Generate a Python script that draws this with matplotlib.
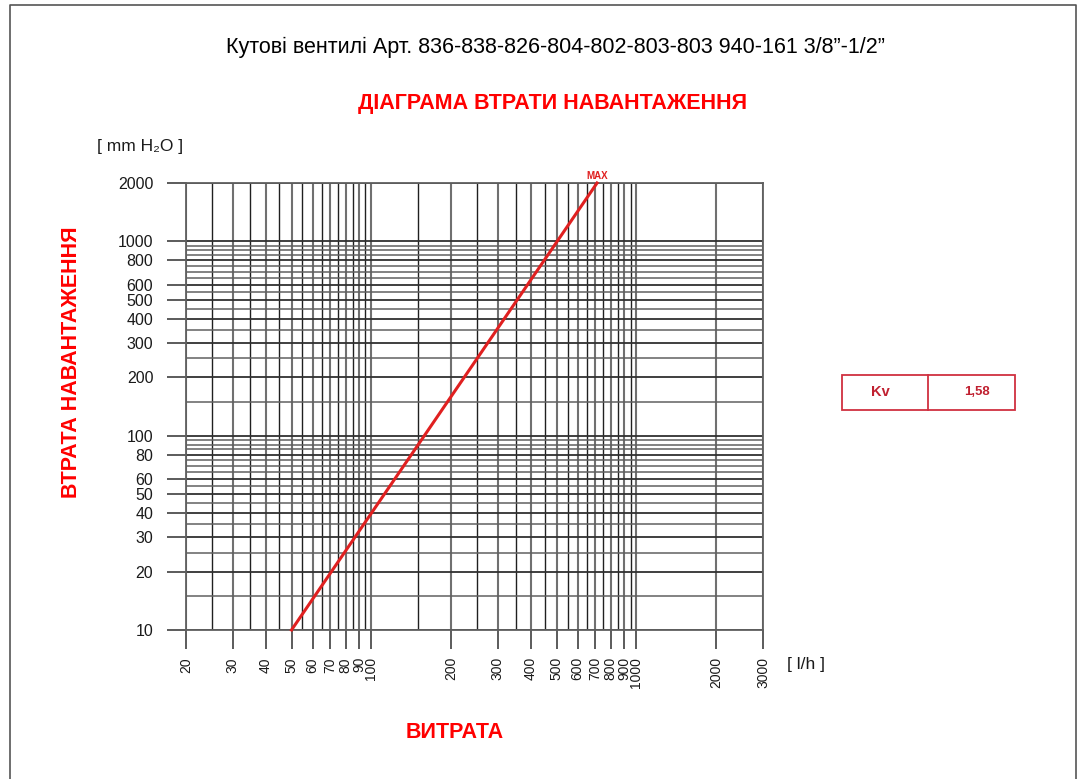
import matplotlib
matplotlib.use("Agg")
import matplotlib.pyplot as plt
from matplotlib.patches import Rectangle
from matplotlib.lines import Line2D

plt.rcParams['font.family'] = ['Liberation Sans', 'DejaVu Sans']

# --- data ---
title = "Кутові вентилі Арт. 836-838-826-804-802-803-803 940-161 3/8”-1/2”"
subtitle = "ДІАГРАМА ВТРАТИ НАВАНТАЖЕННЯ"
ylabel = "ВТРАТА НАВАНТАЖЕННЯ"
xlabel = "ВИТРАТА"

flow_ticks = [20, 30, 40, 50, 60, 70, 80, 90, 100, 200, 300, 400, 500,
              600, 700, 800, 900, 1000, 2000, 3000]
loss_ticks = [10, 20, 30, 40, 50, 60, 80, 100, 200, 300, 400, 500, 600,
              800, 1000, 2000]

grid_flow = list(range(20, 101, 5)) + [150] + list(range(200, 1001, 50)) + [2000, 3000]
grid_loss = [10, 15] + list(range(20, 101, 5)) + [150] + list(range(200, 1001, 50)) + [2000]

# pressure loss line for Kv = 1,58
line_flow = [50, 710]
line_loss = [10, 2000]
kv_value = "1,58"

W, H = 1079, 779
fig = plt.figure(figsize=(W / 100, H / 100), dpi=100)
ax = fig.add_axes([186 / W, 1 - 630 / H, (763 - 186) / W, (630 - 183) / H])
ax.set_xscale('log')
ax.set_yscale('log')
ax.set_xlim(20, 3000)
ax.set_ylim(10, 2000)

# grid of the chart (scanned look: labelled lines grey and thicker)
for v in grid_flow:
    if v in flow_ticks:
        ax.axvline(v, color='#707070', lw=1.5, zorder=1)
    else:
        ax.axvline(v, color='#202020', lw=1.0, zorder=1)
for v in grid_loss:
    if v in loss_ticks:
        ax.axhline(v, color='#303030', lw=1.3, zorder=1)
    else:
        ax.axhline(v, color='#606060', lw=1.1, zorder=1)

for s in ax.spines.values():
    s.set_color('#606060')
    s.set_linewidth(1.3)

ax.plot(line_flow, line_loss, color='#e02020', lw=2.2, zorder=3, clip_on=False)
ax.text(line_flow[-1], line_loss[-1] * 1.02, "MAX", color='#e02020', fontsize=7,
        fontweight='bold', ha='center', va='bottom')

ax.minorticks_off()
ax.set_xticks(flow_ticks)
ax.set_xticklabels([str(v) for v in flow_ticks], rotation=90, fontsize=10,
                   color='#1a1a1a')
ax.set_yticks(loss_ticks)
ax.set_yticklabels([str(v) for v in loss_ticks], fontsize=11.5, color='#1a1a1a')
ax.tick_params(axis='both', direction='out', length=13.5, width=1.2,
               color='#404040')
ax.tick_params(axis='x', pad=6)
ax.tick_params(axis='y', pad=10)

# unit labels
fig.text(97 / W, 1 - 147 / H, "[ mm H₂O ]", fontsize=12.5, color='#1a1a1a',
         va='center', ha='left')
fig.text(787 / W, 1 - 664 / H, "[ l/h ]", fontsize=12.5, color='#1a1a1a',
         va='center', ha='left')

# titles
fig.text(555 / W, 1 - 47 / H, title, fontsize=15.5, ha='center', va='center',
         color='black')
fig.text(553 / W, 1 - 104 / H, subtitle, fontsize=15.5, ha='center', va='center',
         color='#ff0000', fontweight='bold')
fig.text(72 / W, 1 - 362 / H, ylabel, fontsize=15.5, rotation=90, ha='center',
         va='center', color='#ff0000', fontweight='bold')
fig.text(455 / W, 1 - 732 / H, xlabel, fontsize=15.5, ha='center', va='center',
         color='#ff0000', fontweight='bold')

# Kv box
box_col = '#d03040'
fig.patches.append(Rectangle((842 / W, 1 - 410 / H), (1015 - 842) / W, 35 / H,
                             transform=fig.transFigure, fill=False,
                             edgecolor=box_col, lw=1.3))
fig.lines.append(Line2D([928 / W, 928 / W], [1 - 410 / H, 1 - 375 / H],
                        transform=fig.transFigure, color=box_col, lw=1.3))
fig.text(880 / W, 1 - 392 / H, "Kv", color='#c02030', fontsize=10.5,
         fontweight='bold', ha='center', va='center')
fig.text(977 / W, 1 - 392 / H, kv_value, color='#c02030', fontsize=9.5,
         fontweight='bold', ha='center', va='center')

# page frame
fig.lines.append(Line2D([10 / W, 10 / W, 1076 / W, 1076 / W],
                        [0, 1 - 5 / H, 1 - 5 / H, 0],
                        transform=fig.transFigure, color='#555555', lw=1.2))

fig.savefig("out.png", dpi=100)
